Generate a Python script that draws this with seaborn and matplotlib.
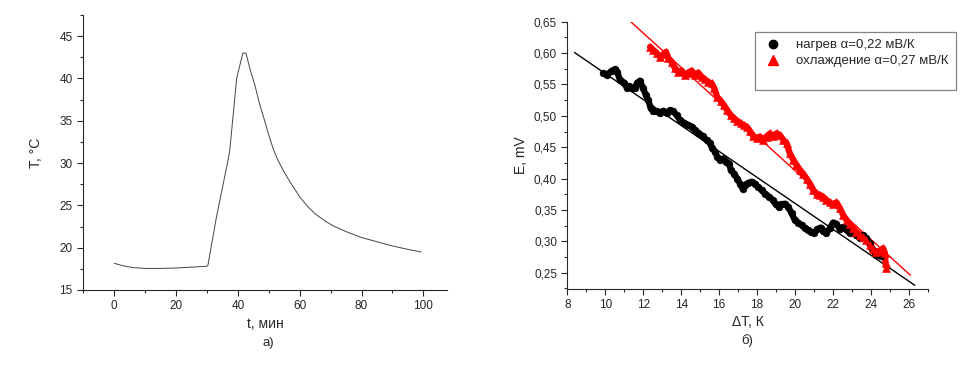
import numpy as np
import pandas as pd
import matplotlib
matplotlib.use("Agg")
import matplotlib.pyplot as plt
import seaborn as sns
from matplotlib.ticker import MultipleLocator, FuncFormatter
from matplotlib.lines import Line2D

# (а) температура во времени
t_min = [0, 3, 6, 10, 15, 20, 25, 29.8, 30.3, 33, 36.9, 37.4, 39.6, 41.6, 42.6,
         44, 45.5, 47, 48.5, 50, 51.5, 53, 55, 57, 60, 62.5, 65, 68, 70.7, 75, 80, 85, 90, 95, 99.2]
T_C = [18.15, 17.85, 17.65, 17.55, 17.55, 17.6, 17.7, 17.8, 17.9, 23.5, 30.5, 31.6, 40.0, 43.0, 43.0,
       41.0, 39.2, 37.0, 35.2, 33.3, 31.6, 30.3, 28.9, 27.7, 26.0, 24.9, 24.0, 23.2, 22.6, 21.9,
       21.2, 20.7, 20.2, 19.8, 19.5]

# (б) нагрев
heat_dT = [9.90, 10.07, 10.34, 10.51, 10.63, 10.77, 10.99, 11.13, 11.27, 11.41, 11.56, 11.69, 11.83,
           11.97, 12.14, 12.27, 12.39, 12.53, 12.71, 12.88, 13.06, 13.23, 13.41, 13.58, 13.76,
           13.94, 14.15, 14.38, 14.55, 14.73, 14.90, 15.13, 15.34, 15.52, 15.64, 15.78, 15.90,
           16.04, 16.22, 16.39, 16.54, 16.61, 16.78, 16.96, 17.10, 17.24, 17.36, 17.54, 17.71,
           17.89, 18.06, 18.24, 18.41, 18.64, 18.82, 18.99, 19.17, 19.29, 19.47, 19.64, 19.82,
           19.99, 20.17, 20.35, 20.52, 20.70, 20.87, 21.01, 21.17, 21.35, 21.49, 21.66, 21.84,
           22.01, 22.19, 22.37, 22.54, 22.72, 22.89, 23.07, 23.24, 23.42, 23.60, 23.77, 23.95,
           24.09, 24.26, 24.44, 24.56]
heat_E = [0.568, 0.565, 0.572, 0.574, 0.570, 0.557, 0.553, 0.545, 0.547, 0.544, 0.545, 0.553, 0.556,
          0.545, 0.533, 0.525, 0.512, 0.507, 0.507, 0.504, 0.508, 0.504, 0.509, 0.507, 0.501,
          0.493, 0.489, 0.485, 0.483, 0.477, 0.473, 0.468, 0.461, 0.457, 0.448, 0.443, 0.435,
          0.430, 0.432, 0.427, 0.424, 0.414, 0.408, 0.400, 0.392, 0.384, 0.390, 0.393, 0.395,
          0.392, 0.386, 0.382, 0.376, 0.371, 0.366, 0.359, 0.354, 0.359, 0.360, 0.355, 0.345,
          0.334, 0.330, 0.326, 0.321, 0.318, 0.315, 0.313, 0.319, 0.322, 0.317, 0.313, 0.321,
          0.330, 0.328, 0.319, 0.323, 0.318, 0.313, 0.315, 0.310, 0.305, 0.310, 0.305, 0.297,
          0.287, 0.278, 0.281, 0.277]

# (б) охлаждение
cool_dT = [12.36, 12.53, 12.71, 12.88, 13.06, 13.20, 13.32, 13.50, 13.67, 13.85, 14.02, 14.20, 14.38,
           14.55, 14.73, 14.90, 15.08, 15.25, 15.43, 15.60, 15.73, 15.90, 16.08, 16.25, 16.43,
           16.61, 16.78, 16.96, 17.13, 17.31, 17.45, 17.62, 17.80, 17.98, 18.15, 18.33, 18.50,
           18.68, 18.85, 19.03, 19.21, 19.38, 19.56, 19.73, 19.91, 20.08, 20.26, 20.43, 20.61,
           20.79, 20.96, 21.14, 21.31, 21.49, 21.66, 21.84, 22.01, 22.19, 22.37, 22.54, 22.72,
           22.89, 23.07, 23.24, 23.42, 23.60, 23.77, 23.95, 24.12, 24.30, 24.47, 24.65, 24.74,
           24.79, 24.79]
cool_E = [0.610, 0.605, 0.600, 0.594, 0.598, 0.602, 0.592, 0.586, 0.576, 0.570, 0.572, 0.565, 0.569,
          0.572, 0.565, 0.569, 0.562, 0.558, 0.554, 0.552, 0.545, 0.530, 0.524, 0.517, 0.509,
          0.501, 0.496, 0.492, 0.488, 0.485, 0.483, 0.476, 0.468, 0.464, 0.467, 0.462, 0.467,
          0.472, 0.468, 0.472, 0.469, 0.462, 0.456, 0.440, 0.430, 0.422, 0.414, 0.408, 0.400,
          0.392, 0.382, 0.375, 0.374, 0.371, 0.366, 0.362, 0.359, 0.362, 0.353, 0.342, 0.334,
          0.328, 0.321, 0.315, 0.310, 0.307, 0.302, 0.294, 0.287, 0.283, 0.285, 0.289, 0.281,
          0.265, 0.257]

# линейные аппроксимации (концы прямых)
heat_fit_dT = [8.37, 26.32]
heat_fit_E = [0.601, 0.230]
cool_fit_dT = [11.34, 26.09]
cool_fit_E = [0.650, 0.246]

heat_label = "нагрев α=0,22 мВ/К"
cool_label = "охлаждение α=0,27 мВ/К"

sns.set_style("ticks")
plt.rcParams["font.family"] = ["Liberation Sans", "DejaVu Sans"]
plt.rcParams["font.size"] = 8

fig = plt.figure(figsize=(9.8, 3.65), dpi=100)
ax1 = fig.add_axes([0.0847, 0.2055, 0.3713, 0.7535])
ax2 = fig.add_axes([0.579, 0.209, 0.3676, 0.7315])

# левый график
df_T = pd.DataFrame({"t": t_min, "T": T_C})
sns.lineplot(x="t", y="T", data=df_T, ax=ax1, color="#444444", linewidth=0.7)
ax1.set_xlim(-10.1, 107.6)
ax1.set_ylim(15, 47.5)
ax1.xaxis.set_major_locator(MultipleLocator(20))
ax1.xaxis.set_minor_locator(MultipleLocator(10))
ax1.yaxis.set_major_locator(MultipleLocator(5))
ax1.yaxis.set_minor_locator(MultipleLocator(2.5))
ax1.set_xlabel("t, мин", fontsize=10, labelpad=3)
ax1.set_ylabel("T, °C", fontsize=10, labelpad=12)
sns.despine(ax=ax1)

# правый график
df_h = pd.DataFrame({"dT": heat_dT, "E": heat_E})
df_c = pd.DataFrame({"dT": cool_dT, "E": cool_E})
sns.lineplot(x=heat_fit_dT, y=heat_fit_E, ax=ax2, color="black", linewidth=1.0)
sns.lineplot(x=cool_fit_dT, y=cool_fit_E, ax=ax2, color="red", linewidth=1.0)
sns.lineplot(x="dT", y="E", data=df_h, ax=ax2, color="black", linewidth=4.5, sort=False)
sns.lineplot(x="dT", y="E", data=df_c, ax=ax2, color="red", linewidth=4.5, sort=False)
sns.scatterplot(x="dT", y="E", data=df_h, ax=ax2, color="black", marker="o", s=24,
                edgecolor="black", zorder=3)
sns.scatterplot(x="dT", y="E", data=df_c, ax=ax2, color="red", marker="^", s=32,
                edgecolor="red", zorder=3)
ax2.set_xlim(8, 27)
ax2.set_ylim(0.2245, 0.65)
ax2.xaxis.set_major_locator(MultipleLocator(2))
ax2.xaxis.set_minor_locator(MultipleLocator(1))
ax2.yaxis.set_major_locator(MultipleLocator(0.05))
ax2.yaxis.set_minor_locator(MultipleLocator(0.025))
ax2.yaxis.set_major_formatter(FuncFormatter(lambda v, p: f"{v:.2f}".replace(".", ",")))
ax2.set_xlabel("ΔT, К", fontsize=10, labelpad=3)
ax2.set_ylabel("E, mV", fontsize=10, labelpad=4)
sns.despine(ax=ax2)

for ax in (ax1, ax2):
    ax.tick_params(which="major", direction="out", length=4, width=0.8, labelsize=8.5)
    ax.tick_params(which="minor", direction="out", length=2.5, width=0.8)
    for s in ("left", "bottom"):
        ax.spines[s].set_linewidth(0.8)

handles = [
    Line2D([], [], linestyle="none", marker="o", color="black", markersize=6),
    Line2D([], [], linestyle="none", marker="^", color="red", markersize=6.5),
    Line2D([], [], linestyle="none"),
]
labels = [heat_label, cool_label, " "]
leg = ax2.legend(handles, labels, loc="upper left", bbox_to_anchor=(0.7635, 0.931),
                 bbox_transform=fig.transFigure, frameon=True, fancybox=False, fontsize=9.5,
                 handletextpad=1.0, borderpad=0.55, labelspacing=0.28, handlelength=1.6)
leg.get_frame().set_edgecolor("#666666")
leg.get_frame().set_linewidth(0.9)

fig.text(0.2735, 0.060, "а)", ha="center", va="center", fontsize=9.5)
fig.text(0.7625, 0.066, "б)", ha="center", va="center", fontsize=9.5)

fig.savefig("out.png", dpi=100)
